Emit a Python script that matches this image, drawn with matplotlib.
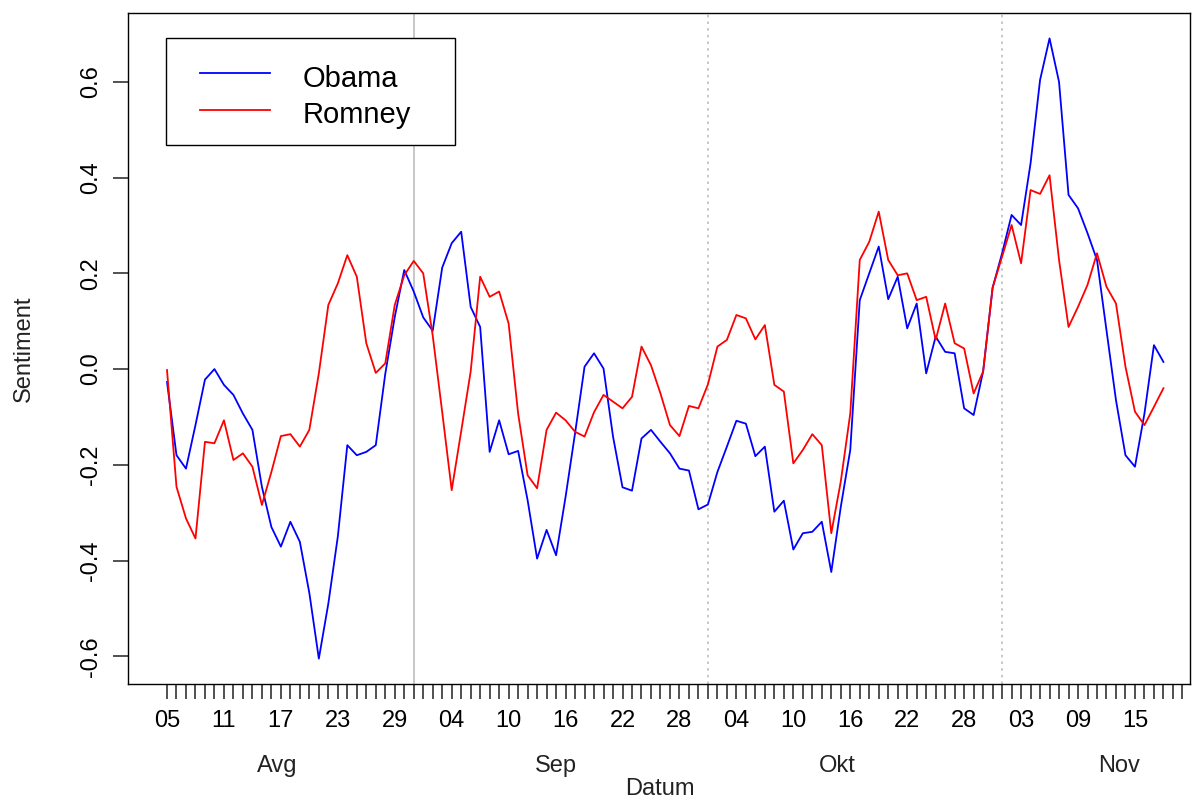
import matplotlib
matplotlib.use("Agg")
import matplotlib.pyplot as plt
import numpy as np

plt.rcParams['font.family'] = ['Liberation Sans', 'DejaVu Sans']

# Daily sentiment, 5 Aug 2012 onwards (one value per day)
obama = [
    -0.027, -0.180, -0.208, -0.117, -0.022, 0.000, -0.033, -0.054, -0.093, -0.127,
    -0.246, -0.330, -0.371, -0.319, -0.361, -0.468, -0.605, -0.490, -0.350, -0.159,
    -0.180, -0.173, -0.159, -0.010, 0.109, 0.207, 0.162, 0.108, 0.080, 0.212,
    0.263, 0.287, 0.130, 0.088, -0.173, -0.107, -0.178, -0.171, -0.274, -0.396,
    -0.336, -0.389, -0.267, -0.134, 0.005, 0.033, 0.001, -0.141, -0.247, -0.254,
    -0.145, -0.127, -0.152, -0.176, -0.208, -0.212, -0.293, -0.283, -0.215, -0.162,
    -0.108, -0.114, -0.182, -0.162, -0.298, -0.275, -0.377, -0.343, -0.340, -0.319,
    -0.424, -0.288, -0.169, 0.144, 0.200, 0.256, 0.146, 0.193, 0.085, 0.137,
    -0.009, 0.068, 0.036, 0.033, -0.082, -0.096, -0.005, 0.170, 0.242, 0.322,
    0.301, 0.430, 0.604, 0.691, 0.600, 0.364, 0.336, 0.284, 0.228, 0.081,
    -0.065, -0.180, -0.204, -0.093, 0.050, 0.015,
]
romney = [
    -0.002, -0.246, -0.312, -0.354, -0.152, -0.155, -0.107, -0.190, -0.176, -0.204,
    -0.284, -0.215, -0.140, -0.136, -0.162, -0.127, -0.009, 0.134, 0.179, 0.238,
    0.193, 0.054, -0.008, 0.012, 0.134, 0.196, 0.226, 0.200, 0.070, -0.090,
    -0.253, -0.130, -0.005, 0.193, 0.151, 0.162, 0.095, -0.093, -0.222, -0.249,
    -0.127, -0.091, -0.107, -0.131, -0.141, -0.090, -0.054, -0.068, -0.082, -0.058,
    0.047, 0.008, -0.051, -0.117, -0.140, -0.077, -0.082, -0.032, 0.047, 0.061,
    0.113, 0.106, 0.062, 0.092, -0.033, -0.047, -0.197, -0.169, -0.136, -0.159,
    -0.343, -0.235, -0.093, 0.228, 0.266, 0.329, 0.228, 0.196, 0.200, 0.144,
    0.151, 0.061, 0.137, 0.054, 0.043, -0.051, -0.005, 0.170, 0.235, 0.301,
    0.221, 0.374, 0.366, 0.405, 0.228, 0.088, 0.130, 0.176, 0.242, 0.172,
    0.137, 0.005, -0.089, -0.117, -0.079, -0.040,
]

# Axis annotations
tick_labels = ["05", "11", "17", "23", "29", "04", "10", "16", "22", "28",
               "04", "10", "16", "22", "28", "03", "09", "15"]
months = ["Avg", "Sep", "Okt", "Nov"]
month_label_day = [11.6, 41.0, 70.6, 100.3]
month_start_day = [26, 57, 88]   # day index of the month separators
y_ticks = [-0.6, -0.4, -0.2, 0.0, 0.2, 0.4, 0.6]

days = np.arange(len(obama))

W, H = 1192, 800
fig = plt.figure(figsize=(W / 100, H / 100), dpi=100)
L, R, T, B = 128, 1190, 13, 684
ax = fig.add_axes([L / W, 1 - B / H, (R - L) / W, (B - T) / H])

# month separators
ax.axvline(month_start_day[0], color="#BEBEBE", lw=1.2, zorder=1)
for d in month_start_day[1:]:
    ax.axvline(d, color="#BEBEBE", lw=1.2, ls=(0, (1.5, 2.5)), zorder=1)

ax.plot(days, obama, color="#0000FF", lw=1.3, zorder=3)
ax.plot(days, romney, color="#FF0000", lw=1.3, zorder=3)

ax.set_xlim(-4.11, 107.8)
ax.set_ylim(-0.658, 0.744)

# x axis: a tick every day, a label every sixth day
ax.set_xticks(np.arange(0, 6 * len(tick_labels), 6))
ax.set_xticklabels(tick_labels)
ax.set_xticks(np.arange(0, 108), minor=True)
ax.tick_params(axis="x", which="both", length=10.5, width=1.2, color="#333333")
ax.tick_params(axis="x", which="major", labelsize=17, pad=8)

ax.set_yticks(y_ticks)
ax.set_yticklabels([f"{v:.1f}" for v in y_ticks])
ax.tick_params(axis="y", length=10.5, width=1.2, color="#333333",
               labelsize=17, pad=8, labelrotation=90)
for lab in ax.get_yticklabels():
    lab.set_va("center")

for sp in ax.spines.values():
    sp.set_linewidth(1.0)
    sp.set_color("black")

# month names under the day labels
for name, d in zip(months, month_label_day):
    ax.text(d, (B - 766) / (B - T), name, transform=ax.get_xaxis_transform(),
            ha="center", va="center", fontsize=17, color="#222222")

fig.text(660 / W, 1 - 789 / H, "Datum", ha="center", va="center",
         fontsize=17, color="#222222")
fig.text(24 / W, 1 - 349 / H, "Sentiment", ha="center", va="center",
         rotation=90, fontsize=17, color="#222222")

# legend box
def ax_xy(px, py):
    return (px - L) / (R - L), (B - py) / (B - T)

x0, y0 = ax_xy(166, 145)
x1, y1 = ax_xy(455, 38)
ax.add_patch(plt.Rectangle((x0, y0), x1 - x0, y1 - y0, transform=ax.transAxes,
                           facecolor="white", edgecolor="black", lw=1.0, zorder=5))
for name, col, py, by in [("Obama", "#0000FF", 73.3, 86.7),
                          ("Romney", "#FF0000", 110, 123.3)]:
    hx0, hy = ax_xy(200, py)
    hx1, _ = ax_xy(270, py)
    ax.plot([hx0, hx1], [hy, hy], color=col, lw=1.3, transform=ax.transAxes, zorder=6)
    tx, ty = ax_xy(303, by)
    ax.text(tx, ty, name, transform=ax.transAxes, ha="left", va="baseline",
            fontsize=21, color="black", zorder=6)

fig.savefig("out.png", dpi=100)
